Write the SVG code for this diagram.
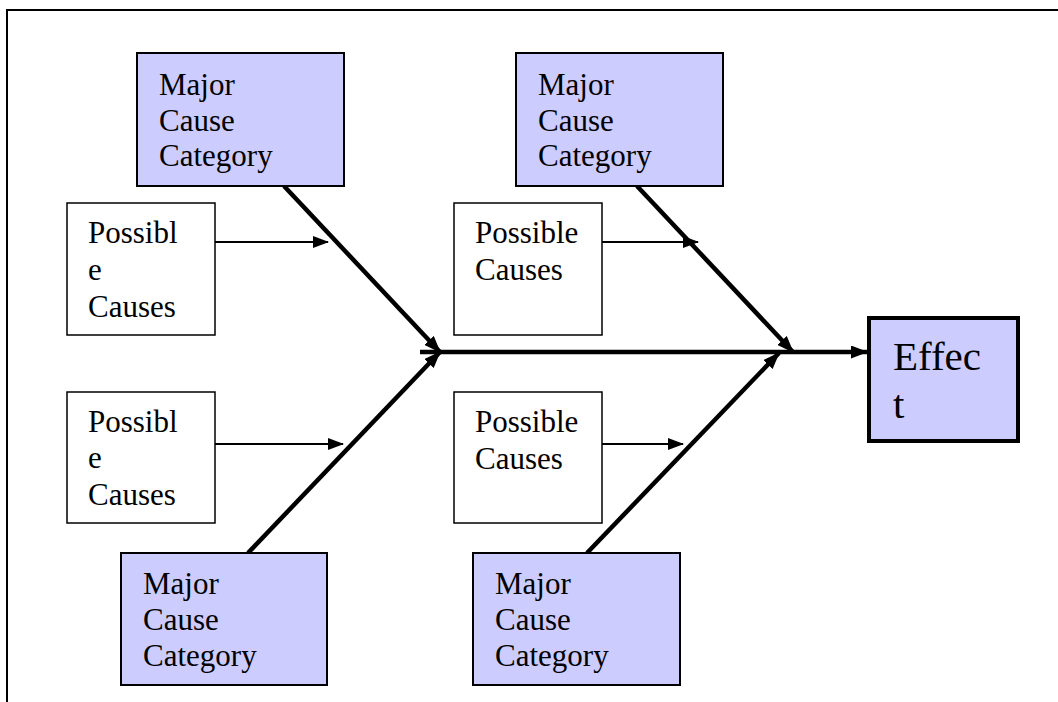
<svg xmlns="http://www.w3.org/2000/svg" width="1058" height="702" viewBox="0 0 1058 702">
<style>
.major{fill:#CCCCFF;stroke:#000;stroke-width:2}
.poss{fill:#fff;stroke:#000;stroke-width:1.5}
.eff{fill:#CCCCFF;stroke:#000;stroke-width:4}
.t{font-family:"Liberation Serif","Times New Roman",serif;font-size:31px;fill:#000}
.te{font-family:"Liberation Serif","Times New Roman",serif;font-size:41px;fill:#000}
.bone{stroke:#000;stroke-width:4.5;fill:none}
.thin{stroke:#000;stroke-width:2;fill:none}
</style>
<defs>
<marker id="ah" markerUnits="userSpaceOnUse" viewBox="0 0 17 13" refX="16" refY="6.5" markerWidth="17" markerHeight="13" orient="auto">
<path d="M0,0 L17,6.5 L0,13 Z" fill="#000"/>
</marker>
<marker id="ahs" markerUnits="userSpaceOnUse" viewBox="0 0 16 12" refX="15" refY="6" markerWidth="16" markerHeight="12" orient="auto">
<path d="M0,0 L16,6 L0,12 Z" fill="#000"/>
</marker>
</defs>
<rect width="1058" height="702" fill="#fff"/>
<path d="M7,702 V10 H1058" fill="none" stroke="#000" stroke-width="2"/>

<g id="connectors">
<line class="bone" x1="420" y1="352" x2="867" y2="352" marker-end="url(#ah)"/>
<line class="bone" x1="284" y1="186" x2="440" y2="352" marker-end="url(#ah)"/>
<line class="bone" x1="248" y1="553" x2="440" y2="352" marker-end="url(#ah)"/>
<line class="bone" x1="637" y1="186" x2="793" y2="352" marker-end="url(#ah)"/>
<line class="bone" x1="587" y1="553" x2="779" y2="353" marker-end="url(#ah)"/>
<line class="thin" x1="215" y1="242" x2="328" y2="242" marker-end="url(#ahs)"/>
<line class="thin" x1="215" y1="444" x2="343" y2="444" marker-end="url(#ahs)"/>
<line class="thin" x1="602" y1="242" x2="698" y2="242" marker-end="url(#ahs)"/>
<line class="thin" x1="602" y1="444" x2="683" y2="444" marker-end="url(#ahs)"/>
</g>

<g id="major-top-left">
<rect class="major" x="137" y="53" width="207" height="133"/>
<text class="t" x="159" y="95">Major</text>
<text class="t" x="159" y="131">Cause</text>
<text class="t" x="159" y="166">Category</text>
</g>
<g id="major-top-right">
<rect class="major" x="516" y="53" width="207" height="133"/>
<text class="t" x="538" y="95">Major</text>
<text class="t" x="538" y="131">Cause</text>
<text class="t" x="538" y="166">Category</text>
</g>
<g id="major-bottom-left">
<rect class="major" x="121" y="553" width="206" height="132"/>
<text class="t" x="143" y="594">Major</text>
<text class="t" x="143" y="630">Cause</text>
<text class="t" x="143" y="666">Category</text>
</g>
<g id="major-bottom-right">
<rect class="major" x="473" y="553" width="207" height="132"/>
<text class="t" x="495" y="594">Major</text>
<text class="t" x="495" y="630">Cause</text>
<text class="t" x="495" y="666">Category</text>
</g>

<g id="possible-top-left">
<rect class="poss" x="67" y="203" width="148" height="132"/>
<text class="t" x="88" y="243">Possibl</text>
<text class="t" x="88" y="280">e</text>
<text class="t" x="88" y="317">Causes</text>
</g>
<g id="possible-bottom-left">
<rect class="poss" x="67" y="392" width="148" height="131"/>
<text class="t" x="88" y="432">Possibl</text>
<text class="t" x="88" y="468">e</text>
<text class="t" x="88" y="505">Causes</text>
</g>
<g id="possible-top-right">
<rect class="poss" x="454" y="203" width="148" height="132"/>
<text class="t" x="475" y="243">Possible</text>
<text class="t" x="475" y="280">Causes</text>
</g>
<g id="possible-bottom-right">
<rect class="poss" x="454" y="392" width="148" height="131"/>
<text class="t" x="475" y="432">Possible</text>
<text class="t" x="475" y="469">Causes</text>
</g>

<g id="effect">
<rect class="eff" x="869" y="318" width="149" height="123"/>
<text class="te" x="893" y="370">Effec</text>
<text class="te" x="893" y="418">t</text>
</g>
</svg>
